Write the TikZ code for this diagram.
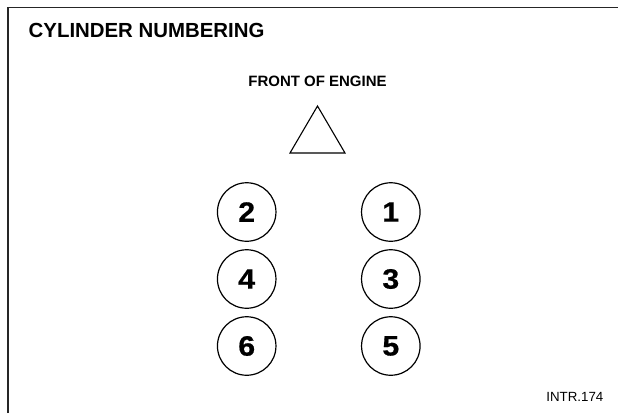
\documentclass[tikz,border=0pt]{standalone}
\usepackage{fontspec}
\setmainfont{Liberation Sans}
\newfontfamily\digitfont[FakeStretch=1.08,FakeBold=0.6]{Liberation Sans Bold}
\begin{document}
\begin{tikzpicture}[x=1pt,y=-1pt,
  cyl/.style={draw,circle,line width=1.2pt,minimum size=58.5pt,inner sep=0pt,
    font=\digitfont\fontsize{28}{28}\selectfont},
  frameline/.style={line width=1.6pt,draw=black!85}]
\useasboundingbox (0,0) rectangle (618,413);
\fill[white] (0,0) rectangle (618,413);
\coordinate (fbl) at (8,413);
\coordinate (ftl) at (8,7.5);
\coordinate (ftr) at (618,7.5);
\draw[frameline] (fbl) -- (ftl) -- (ftr);
\node[anchor=base west,inner sep=0pt,font=\bfseries\fontsize{20.4}{20.4}\selectfont] (title) at (28.5,37) {CYLINDER NUMBERING};
\node[anchor=base,inner sep=0pt,font=\bfseries\fontsize{15}{15}\selectfont] (front) at (317.5,86.7) {FRONT OF ENGINE};
\coordinate (ta) at (317.5,106);
\coordinate (tl) at (290,153);
\coordinate (tr) at (345,153);
\draw[line width=1.1pt,line join=miter] (ta) -- (tl) -- (tr) -- cycle;
\node[cyl] (c2) at (246.7,212) {2};
\node[cyl] (c1) at (390.8,212) {1};
\node[cyl] (c4) at (246.7,279) {4};
\node[cyl] (c3) at (390.8,279) {3};
\node[cyl] (c6) at (246.7,346) {6};
\node[cyl] (c5) at (390.8,346) {5};
\node[anchor=base east,inner sep=0pt,font=\fontsize{13.3}{13.3}\selectfont] (ref) at (603.5,401) {INTR.174};
\end{tikzpicture}
\end{document}
